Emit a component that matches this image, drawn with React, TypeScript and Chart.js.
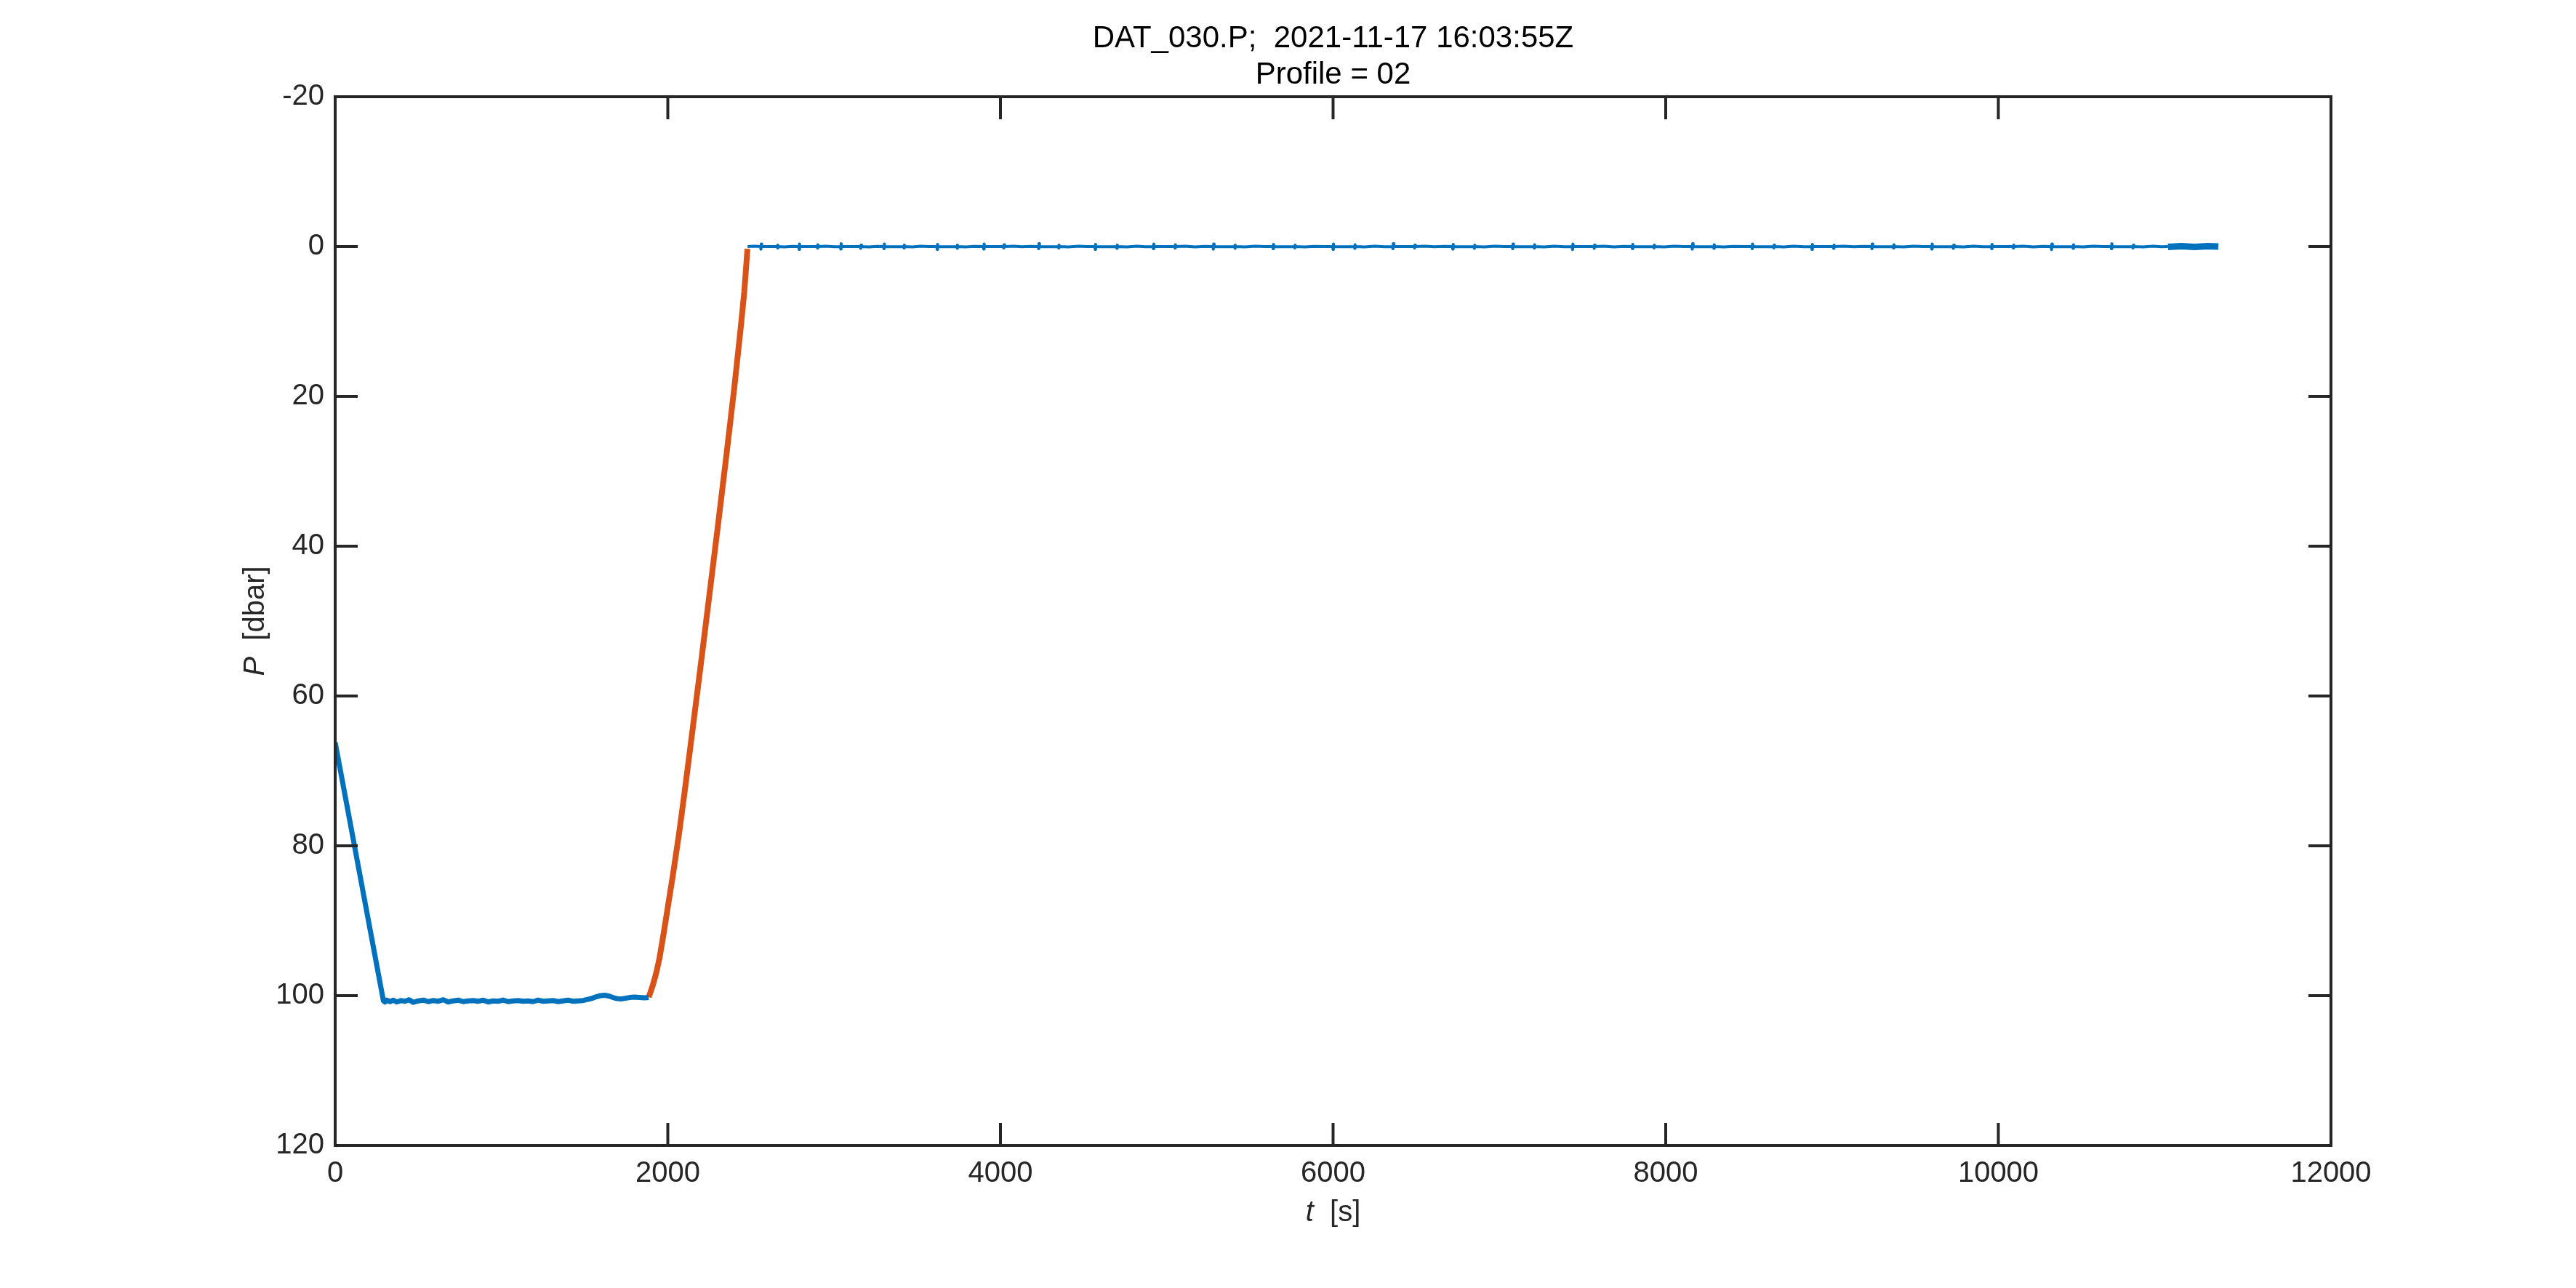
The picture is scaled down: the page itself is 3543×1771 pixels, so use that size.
import React, { useEffect, useRef } from 'react';
import { Chart, registerables } from 'chart.js';

Chart.register(...registerables);

// === Text ===
const TITLE_LINES = ['DAT_030.P;  2021-11-17 16:03:55Z', 'Profile = 02'];
const X_LABEL = ['t', '  [s]']; // italic part, roman part
const Y_LABEL = ['P', '  [dbar]'];

// === Ticks ===
const X_TICKS = [0, 2000, 4000, 6000, 8000, 10000, 12000];
const Y_TICKS = [-20, 0, 20, 40, 60, 80, 100, 120];

// === Series (t [s], P [dbar]) ===
// descent + park at ~100 dbar (blue)
const PARK_T = [
  0, 290, 300, 310, 330, 350, 370, 395, 420, 445, 470, 500, 530, 560, 590, 620, 650, 680, 710, 740,
  770, 800, 830, 860, 890, 920, 950, 980, 1010, 1040, 1070, 1100, 1130, 1160, 1190, 1220, 1250, 1280,
  1310, 1340, 1370, 1400, 1430, 1460, 1490, 1520, 1545, 1570, 1595, 1620, 1645, 1670, 1695, 1720,
  1745, 1770, 1800, 1830, 1860, 1885,
];
const PARK_P = [
  66.2, 100.7, 100.85, 100.6, 100.8, 100.6, 100.85, 100.65, 100.75, 100.55, 100.9, 100.7, 100.6,
  100.8, 100.65, 100.75, 100.55, 100.85, 100.7, 100.6, 100.8, 100.7, 100.65, 100.75, 100.6, 100.85,
  100.7, 100.75, 100.6, 100.8, 100.7, 100.65, 100.75, 100.7, 100.8, 100.6, 100.75, 100.7, 100.65,
  100.8, 100.7, 100.6, 100.75, 100.7, 100.65, 100.5, 100.35, 100.15, 100.0, 99.95, 100.05, 100.25,
  100.4, 100.45, 100.35, 100.25, 100.2, 100.25, 100.3, 100.25,
];

// ascent profile (orange)
const ASCENT_T = [
  1885, 1895, 1910, 1930, 1950, 1975, 2000, 2030, 2068, 2100, 2150, 2200, 2250, 2300, 2350, 2400,
  2440, 2460, 2479,
];
const ASCENT_P = [
  100.2, 99.6, 98.6, 97.0, 95.0, 91.7, 88.2, 84.0, 78.3, 73.0, 64.3, 55.5, 46.5, 37.5, 28.3, 18.8,
  10.5, 6.0, 0.3,
];

// surface drift (blue, thin) as [t, P]; the noise shows up as short spikes
const SURFACE: [number, number][] = [
  [2480, 0.0], [2520, -0.05],
  [2557, 0], [2560, 0.35], [2562, -0.35], [2565, 0],
  [2610, 0.0], [2658, 0], [2660, 0.2], [2662, -0.2], [2665, 0], [2700, 0.05], [2750, -0.03],
  [2787, 0], [2790, 0.4], [2792, -0.35], [2795, 0],
  [2850, 0], [2898, 0], [2900, 0.2], [2902, -0.25], [2905, 0], [2950, -0.05], [3000, 0.03],
  [3037, 0], [3040, 0.35], [3042, -0.4], [3045, 0],
  [3100, 0], [3158, 0], [3160, 0.25], [3162, -0.2], [3165, 0], [3210, 0.05], [3260, -0.03],
  [3297, 0], [3300, 0.3], [3302, -0.35], [3305, 0],
  [3360, 0.02], [3418, 0], [3420, 0.2], [3422, -0.2], [3425, 0], [3470, 0.05], [3520, -0.05], [3570, 0],
  [3617, 0], [3620, 0.4], [3622, -0.3], [3625, 0],
  [3680, 0.02], [3738, 0], [3740, 0.25], [3742, -0.2], [3745, 0], [3790, 0.04], [3840, -0.02],
  [3897, 0], [3900, 0.35], [3902, -0.35], [3905, 0],
  [3960, 0], [4018, 0], [4020, 0.2], [4022, -0.25], [4025, 0], [4080, -0.05], [4130, 0.03], [4180, -0.02],
  [4227, 0], [4230, 0.3], [4232, -0.4], [4235, 0],
  [4290, 0.02], [4348, 0], [4350, 0.2], [4352, -0.2], [4355, 0], [4410, 0.05], [4470, -0.04], [4520, 0],
  [4567, 0], [4570, 0.4], [4572, -0.3], [4575, 0],
  [4640, 0.02], [4698, 0], [4700, 0.25], [4702, -0.2], [4705, 0], [4760, 0.04], [4820, -0.05], [4870, 0.02],
  [4917, 0], [4920, 0.3], [4922, -0.35], [4925, 0],
  [4990, 0], [5048, 0], [5050, 0.2], [5052, -0.25], [5055, 0], [5110, -0.04], [5170, 0.05], [5230, -0.02],
  [5277, 0], [5280, 0.35], [5282, -0.35], [5285, 0],
  [5350, 0.02], [5408, 0], [5410, 0.25], [5412, -0.2], [5415, 0], [5470, 0.04], [5530, -0.05], [5590, 0],
  [5637, 0], [5640, 0.3], [5642, -0.3], [5645, 0],
  [5710, 0.02], [5768, 0], [5770, 0.2], [5772, -0.2], [5775, 0], [5830, 0.05], [5890, -0.03], [5950, 0],
  [5997, 0], [6000, 0.4], [6002, -0.35], [6005, 0],
  [6070, 0.02], [6128, 0], [6130, 0.25], [6132, -0.25], [6135, 0], [6190, 0.05], [6250, -0.04], [6310, 0.02],
  [6357, 0], [6360, 0.3], [6362, -0.4], [6365, 0],
  [6430, 0], [6488, 0], [6490, 0.2], [6492, -0.2], [6495, 0], [6550, -0.05], [6610, 0.03], [6670, -0.02],
  [6717, 0], [6720, 0.35], [6722, -0.3], [6725, 0],
  [6790, 0.02], [6848, 0], [6850, 0.25], [6852, -0.2], [6855, 0], [6910, 0.05], [6970, -0.04], [7030, 0],
  [7077, 0], [7080, 0.3], [7082, -0.35], [7085, 0],
  [7150, 0.02], [7208, 0], [7210, 0.2], [7212, -0.25], [7215, 0], [7270, 0.04], [7330, -0.05], [7390, 0.02],
  [7437, 0], [7440, 0.4], [7442, -0.35], [7445, 0],
  [7510, 0], [7568, 0], [7570, 0.25], [7572, -0.2], [7575, 0], [7630, -0.04], [7690, 0.05], [7750, -0.02],
  [7797, 0], [7800, 0.3], [7802, -0.3], [7805, 0],
  [7870, 0.02], [7928, 0], [7930, 0.2], [7932, -0.2], [7935, 0], [7990, 0.04], [8050, -0.05], [8110, 0],
  [8157, 0], [8160, 0.35], [8162, -0.4], [8165, 0],
  [8230, 0.02], [8288, 0], [8290, 0.25], [8292, -0.25], [8295, 0], [8350, 0.05], [8410, -0.03], [8470, 0],
  [8517, 0], [8520, 0.3], [8522, -0.35], [8525, 0],
  [8590, 0.02], [8648, 0], [8650, 0.2], [8652, -0.2], [8655, 0], [8710, 0.05], [8770, -0.04], [8830, 0.02],
  [8877, 0], [8880, 0.4], [8882, -0.3], [8885, 0],
  [8950, 0], [9008, 0], [9010, 0.25], [9012, -0.2], [9015, 0], [9070, -0.05], [9130, 0.03], [9190, -0.02],
  [9237, 0], [9240, 0.3], [9242, -0.35], [9245, 0],
  [9310, 0.02], [9368, 0], [9370, 0.2], [9372, -0.25], [9375, 0], [9430, 0.05], [9490, -0.04], [9550, 0],
  [9597, 0], [9600, 0.35], [9602, -0.35], [9605, 0],
  [9670, 0.02], [9728, 0], [9730, 0.25], [9732, -0.2], [9735, 0], [9790, 0.04], [9850, -0.05], [9910, 0.02],
  [9957, 0], [9960, 0.3], [9962, -0.3], [9965, 0],
  [10030, 0], [10088, 0], [10090, 0.2], [10092, -0.2], [10095, 0], [10150, -0.04], [10210, 0.05], [10270, -0.02],
  [10317, 0], [10320, 0.4], [10322, -0.35], [10325, 0],
  [10390, 0.02], [10448, 0], [10450, 0.25], [10452, -0.25], [10455, 0], [10510, 0.04], [10570, -0.05], [10630, 0],
  [10677, 0], [10680, 0.3], [10682, -0.4], [10685, 0],
  [10750, 0.02], [10808, 0], [10810, 0.2], [10812, -0.2], [10815, 0], [10870, 0.05], [10930, -0.04],
  [10980, 0.03], [11020, 0.0],
];

// dense sampling at the end of the record (blue, thick)
const END_T = [11020, 11100, 11180, 11260, 11323];
const END_P = [0.05, -0.05, 0.05, -0.05, 0.0];

// === Style ===
const BLUE = '#0072BD';
const ORANGE = '#D95319';
const AXIS_COLOR = '#262626';
const FONT = '"Liberation Sans", Arial, Helvetica, sans-serif';
const TICK_LEN = 29;

const toXY = (t: number[], p: number[]) => t.map((x, i) => ({ x, y: p[i] }));

const matlabAxes = {
  id: 'matlabAxes',
  afterDatasetsDraw(chart: any) {
    const { ctx, chartArea: a, scales } = chart;
    ctx.save();
    ctx.strokeStyle = AXIS_COLOR;
    ctx.lineWidth = 4;
    ctx.lineCap = 'square';
    ctx.strokeRect(a.left, a.top, a.right - a.left, a.bottom - a.top);
    ctx.beginPath();
    X_TICKS.forEach((v) => {
      const x = scales.x.getPixelForValue(v);
      ctx.moveTo(x, a.bottom);
      ctx.lineTo(x, a.bottom - TICK_LEN);
      ctx.moveTo(x, a.top);
      ctx.lineTo(x, a.top + TICK_LEN);
    });
    Y_TICKS.forEach((v) => {
      const y = scales.y.getPixelForValue(v);
      ctx.moveTo(a.left, y);
      ctx.lineTo(a.left + TICK_LEN, y);
      ctx.moveTo(a.right, y);
      ctx.lineTo(a.right - TICK_LEN, y);
    });
    ctx.stroke();
    ctx.restore();
  },
  afterDraw(chart: any) {
    const { ctx, chartArea: a } = chart;
    const cx = (a.left + a.right) / 2;
    const cy = (a.top + a.bottom) / 2;
    ctx.save();
    ctx.fillStyle = '#000';
    ctx.textBaseline = 'middle';

    // title
    ctx.textAlign = 'center';
    ctx.font = `42px ${FONT}`;
    ctx.fillText(TITLE_LINES[0], cx, 53);
    ctx.fillText(TITLE_LINES[1], cx, 103);

    // axis labels: italic symbol + roman unit
    const drawLabel = (parts: string[], x: number, y: number) => {
      ctx.font = `italic 40px ${FONT}`;
      const w0 = ctx.measureText(parts[0]).width;
      ctx.font = `40px ${FONT}`;
      const w1 = ctx.measureText(parts[1]).width;
      const start = x - (w0 + w1) / 2;
      ctx.textAlign = 'left';
      ctx.fillStyle = AXIS_COLOR;
      ctx.font = `italic 40px ${FONT}`;
      ctx.fillText(parts[0], start, y);
      ctx.font = `40px ${FONT}`;
      ctx.fillText(parts[1], start + w0, y);
    };
    drawLabel(X_LABEL, cx, 1668);
    ctx.translate(352, cy);
    ctx.rotate(-Math.PI / 2);
    drawLabel(Y_LABEL, 0, 0);
    ctx.restore();
  },
};

export default function App() {
  const canvasRef = useRef<HTMLCanvasElement>(null);

  useEffect(() => {
    if (!canvasRef.current) return;
    const chart = new Chart(canvasRef.current, {
      type: 'line',
      data: {
        datasets: [
          {
            data: toXY(PARK_T, PARK_P),
            borderColor: BLUE,
            borderWidth: 7,
          },
          {
            data: toXY(ASCENT_T, ASCENT_P),
            borderColor: ORANGE,
            borderWidth: 8,
          },
          {
            data: SURFACE.map(([x, y]) => ({ x, y })),
            borderColor: BLUE,
            borderWidth: 4,
          },
          {
            data: toXY(END_T, END_P),
            borderColor: BLUE,
            borderWidth: 9,
          },
        ],
      },
      options: {
        animation: false,
        responsive: true,
        maintainAspectRatio: false,
        devicePixelRatio: 1,
        parsing: false,
        elements: {
          point: { radius: 0 },
          line: { tension: 0, borderCapStyle: 'butt', borderJoinStyle: 'round' },
        },
        layout: { padding: { top: 133, right: 337, left: 0, bottom: 0 } },
        plugins: {
          legend: { display: false },
          tooltip: { enabled: false },
          title: { display: false },
        },
        scales: {
          x: {
            type: 'linear',
            min: 0,
            max: 12000,
            grid: { display: false, drawTicks: false },
            border: { display: false },
            ticks: {
              stepSize: 2000,
              padding: 15,
              color: AXIS_COLOR,
              font: { family: FONT, size: 40 },
              maxRotation: 0,
              callback: (v: any) => String(v),
            },
            afterFit: (scale: any) => {
              scale.height = 196;
            },
          },
          y: {
            type: 'linear',
            reverse: true,
            min: -20,
            max: 120,
            grid: { display: false, drawTicks: false },
            border: { display: false },
            ticks: {
              stepSize: 20,
              padding: 15,
              color: AXIS_COLOR,
              font: { family: FONT, size: 40 },
              callback: (v: any) => String(v),
            },
            afterFit: (scale: any) => {
              scale.width = 461;
            },
          },
        },
      },
      plugins: [matlabAxes],
    });
    return () => chart.destroy();
  }, []);

  return (
    <div
      style={{
        position: 'fixed',
        left: 0,
        top: 0,
        width: 3543,
        height: 1771,
        background: '#fff',
      }}
    >
      <canvas ref={canvasRef} />
    </div>
  );
}
